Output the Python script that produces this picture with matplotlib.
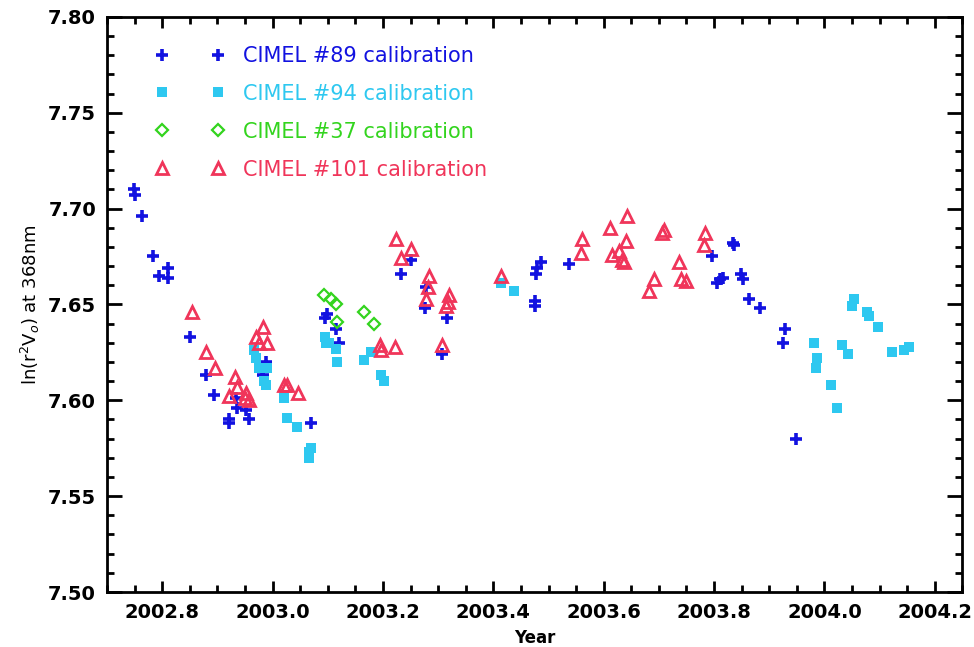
import matplotlib
matplotlib.use("Agg")
import matplotlib.pyplot as plt
from matplotlib.ticker import MultipleLocator, FormatStrFormatter

# CIMEL #89 calibration
yr89 = [2002.749, 2002.750, 2002.763, 2002.783, 2002.794, 2002.810, 2002.810, 2002.850,
        2002.880, 2002.893, 2002.920, 2002.920, 2002.934, 2002.936, 2002.952, 2002.958,
        2002.983, 2002.981, 2002.988, 2003.069, 2003.095, 2003.098, 2003.114, 2003.120,
        2003.232, 2003.250, 2003.277, 2003.278, 2003.316, 2003.307, 2003.475, 2003.475,
        2003.477, 2003.480, 2003.486, 2003.538, 2003.796, 2003.810, 2003.806, 2003.835,
        2003.837, 2003.817, 2003.848, 2003.853, 2003.864, 2003.884, 2003.929, 2003.925,
        2003.949]
v89 = [7.710, 7.707, 7.696, 7.675, 7.665, 7.669, 7.664, 7.633,
       7.613, 7.603, 7.590, 7.588, 7.601, 7.596, 7.595, 7.590,
       7.613, 7.617, 7.620, 7.588, 7.643, 7.645, 7.637, 7.630,
       7.666, 7.673, 7.648, 7.659, 7.643, 7.624, 7.652, 7.649,
       7.666, 7.669, 7.672, 7.671, 7.675, 7.663, 7.661, 7.682,
       7.681, 7.664, 7.666, 7.663, 7.653, 7.648, 7.637, 7.630,
       7.580]

# CIMEL #94 calibration
yr94 = [2002.967, 2002.970, 2002.976, 2002.990, 2002.985, 2002.988, 2003.021, 2003.026,
        2003.044, 2003.069, 2003.066, 2003.066, 2003.095, 2003.096, 2003.102, 2003.114,
        2003.116, 2003.165, 2003.179, 2003.197, 2003.201, 2003.414, 2003.437, 2004.053,
        2004.050, 2004.078, 2004.080, 2004.098, 2003.981, 2003.987, 2003.985, 2004.032,
        2004.042, 2004.012, 2004.023, 2004.122, 2004.145, 2004.154]
v94 = [7.626, 7.622, 7.617, 7.617, 7.610, 7.608, 7.601, 7.591,
       7.586, 7.575, 7.573, 7.570, 7.633, 7.630, 7.630, 7.627,
       7.620, 7.621, 7.625, 7.613, 7.610, 7.661, 7.657, 7.653,
       7.649, 7.646, 7.644, 7.638, 7.630, 7.622, 7.617, 7.629,
       7.624, 7.608, 7.596, 7.625, 7.626, 7.628]

# CIMEL #37 calibration
yr37 = [2003.093, 2003.105, 2003.114, 2003.116, 2003.165, 2003.183]
v37 = [7.655, 7.653, 7.650, 7.641, 7.646, 7.640]

# CIMEL #101 calibration
yr101 = [2002.853, 2002.880, 2002.895, 2002.931, 2002.936, 2002.920, 2002.952, 2002.958,
         2002.949, 2002.983, 2002.970, 2002.976, 2002.990, 2003.021, 2003.026, 2003.046,
         2003.224, 2003.250, 2003.232, 2003.195, 2003.221, 2003.197, 2003.284, 2003.282,
         2003.278, 2003.320, 2003.318, 2003.314, 2003.307, 2003.414, 2003.561, 2003.558,
         2003.612, 2003.642, 2003.641, 2003.628, 2003.615, 2003.633, 2003.637, 2003.705,
         2003.709, 2003.691, 2003.682, 2003.736, 2003.741, 2003.750, 2003.783, 2003.781]
v101 = [7.646, 7.625, 7.617, 7.612, 7.607, 7.602, 7.604, 7.600,
        7.601, 7.638, 7.633, 7.630, 7.630, 7.608, 7.608, 7.604,
        7.684, 7.679, 7.674, 7.629, 7.628, 7.626, 7.665, 7.659,
        7.653, 7.655, 7.651, 7.649, 7.629, 7.665, 7.684, 7.677,
        7.690, 7.696, 7.683, 7.678, 7.676, 7.673, 7.672, 7.687,
        7.689, 7.663, 7.657, 7.672, 7.663, 7.662, 7.687, 7.681]

c89, c94, c37, c101 = "#1212e0", "#2ec8f0", "#33d41e", "#f0355a"

plt.rcParams["font.family"] = "DejaVu Sans"
fig = plt.figure(figsize=(9.74, 6.47), dpi=100)
ax = fig.add_axes([0.110, 0.085, 0.878, 0.889])

ax.plot(yr89, v89, ls="none", marker="+", ms=8, mew=2.6, color=c89,
        label="CIMEL #89 calibration")
ax.plot(yr94, v94, ls="none", marker="s", ms=7, mew=0, color=c94,
        label="CIMEL #94 calibration")
ax.plot(yr37, v37, ls="none", marker="D", ms=6, mew=1.6, mfc="none", color=c37,
        label="CIMEL #37 calibration")
ax.plot(yr101, v101, ls="none", marker="^", ms=9, mew=2.0, mfc="none", color=c101,
        label="CIMEL #101 calibration")

ax.set_xlim(2002.70, 2004.25)
ax.set_ylim(7.50, 7.80)
ax.xaxis.set_major_locator(MultipleLocator(0.2))
ax.xaxis.set_minor_locator(MultipleLocator(0.05))
ax.yaxis.set_major_locator(MultipleLocator(0.05))
ax.yaxis.set_minor_locator(MultipleLocator(0.01))
ax.xaxis.set_major_formatter(FormatStrFormatter("%.1f"))
ax.yaxis.set_major_formatter(FormatStrFormatter("%.2f"))
ax.tick_params(which="both", direction="in", top=True, right=True, width=2.0)
ax.tick_params(which="major", labelsize=14, pad=8)
ax.tick_params(axis="x", which="major", length=8)
ax.tick_params(axis="y", which="major", length=11)
ax.tick_params(which="minor", length=5)
for lab in ax.get_xticklabels() + ax.get_yticklabels():
    lab.set_fontweight("bold")
for sp in ax.spines.values():
    sp.set_linewidth(2.0)

ax.set_xlabel("Year", fontsize=12, fontweight="bold", labelpad=5)
ax.set_ylabel(r"ln(r$^2$V$_o$) at 368nm", fontsize=13, labelpad=4)

leg = ax.legend(loc="upper left", bbox_to_anchor=(0.047, 0.964), numpoints=2,
                frameon=False, fontsize=15, handlelength=3.27, handletextpad=0.94,
                labelspacing=0.86, borderaxespad=0)
for txt, col in zip(leg.get_texts(), [c89, c94, c37, c101]):
    txt.set_color(col)

fig.savefig("out.png", dpi=100)
